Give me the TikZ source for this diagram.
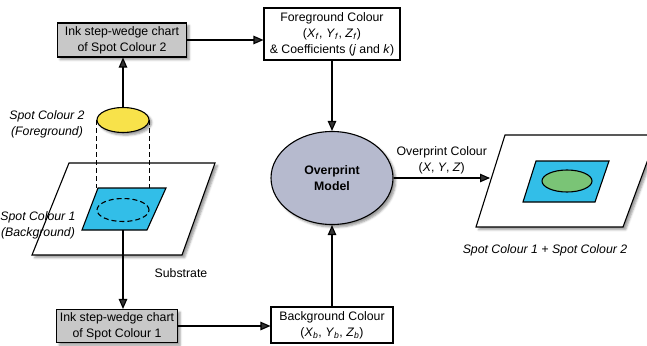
\documentclass[tikz,border=0pt]{standalone}
\usepackage{fontspec}
\setmainfont{Liberation Sans}
\usetikzlibrary{arrows.meta}
\usetikzlibrary{positioning}
\usetikzlibrary{shapes.geometric}
\usetikzlibrary{shadows.blur}

\definecolor{chartgrey}{RGB}{200,200,200}
\definecolor{modelgrey}{RGB}{182,186,206}
\definecolor{spotblue}{RGB}{50,190,232}
\definecolor{spotyellow}{RGB}{248,226,74}
\definecolor{spotgreen}{RGB}{122,196,118}

\tikzset{
  every node/.style={font=\fontsize{12.3}{16}\selectfont},
  chart/.style={draw, fill=chartgrey, align=center, inner sep=1pt, blur shadow},
  colourbox/.style={draw, fill=white, align=center, inner sep=1pt},
  model/.style={draw, ellipse, fill=modelgrey, align=center, minimum width=122pt, minimum height=93pt, blur shadow},
  spot/.style={draw, ellipse, inner sep=0pt},
  sheet/.style={draw, fill=white, blur shadow},
  hidden/.style={dash pattern=on 5pt off 3pt},
  flow/.style={-{Triangle[length=10pt,width=8.5pt]}},
  spotlabel/.style={font=\fontsize{12.3}{16}\selectfont\itshape, align=center},
}

\begin{document}
\begin{tikzpicture}[x=1pt, y=-1pt, line width=1.1pt]
  \useasboundingbox (0,0) rectangle (647,345);
  \clip (0,0) rectangle (647,345);

  % substrate with spot colour 1 printed on it
  \draw[sheet] (69,163) -- (215,163) -- (182,255) -- (32,255) -- cycle;
  \draw[fill=spotblue] (98,188) -- (166,188) -- (147,230) -- (82,230) -- cycle;
  \draw[hidden] (123,210) ellipse (26pt and 11.5pt);
  \coordinate (bgtop) at (123,188);
  \coordinate (bgbottom) at (123,230);

  \node[spot, fill=spotyellow, minimum width=52pt, minimum height=25pt, blur shadow] (spot2) at (123,120) {};
  \draw[hidden] (spot2.west) -- (spot2.west |- bgtop);
  \draw[hidden] (spot2.east) -- (spot2.east |- bgtop);

  \node[spotlabel] (spot2lbl) at (47,124) {Spot Colour 2\\(Foreground)};
  \node[spotlabel] (spot1lbl) at (38,225) {Spot Colour 1\\(Background)};
  \node (substrate) at (181,273) {Substrate};

  % printed result
  \draw[sheet] (505,135) -- (657,135) -- (623,227) -- (476,227) -- cycle;
  \draw[fill=spotblue] (536,161) -- (609,161) -- (595,202) -- (523,202) -- cycle;
  \node[spot, fill=spotgreen, minimum width=50pt, minimum height=22pt] (mix) at (567,181) {};
  \coordinate (overin) at (490,178);
  \node[spotlabel] (mixlbl) at (545,250) {Spot Colour 1 + Spot Colour 2};

  \node[chart, minimum width=129pt, minimum height=34pt] (chart2) at (122,40) {Ink step-wedge chart\\of Spot Colour 2};
  \node[chart, minimum width=121pt, minimum height=33pt] (chart1) at (117,326) {Ink step-wedge chart\\of Spot Colour 1};

  \node[colourbox, minimum width=136pt, minimum height=52pt] (fg) at (332,34)
    {Foreground Colour\\(\textit{X}\textsubscript{\textit{f}}, \textit{Y}\textsubscript{\textit{f}}, \textit{Z}\textsubscript{\textit{f}})\\\& Coefficients (\textit{j} and \textit{k})};
  \node[colourbox, minimum width=122pt, minimum height=36pt] (bg) at (332,325)
    {Background Colour\\(\textit{X}\textsubscript{\textit{b}}, \textit{Y}\textsubscript{\textit{b}}, \textit{Z}\textsubscript{\textit{b}})};

  \node[model] (model) at (332,178) {\textbf{Overprint}\\\textbf{Model}};

  \draw[flow] (spot2.north) -- (spot2.north |- chart2.south);
  \draw[flow] (chart2.east) -- (chart2.east -| fg.west);
  \draw[flow] (fg) -- (model);
  \draw[flow] (model) -- node[above, align=center] {Overprint Colour\\(\textit{X}, \textit{Y}, \textit{Z})} (overin);
  \draw[flow] (bgbottom) -- (bgbottom |- chart1.north);
  \draw[flow] (chart1.east) -- (chart1.east -| bg.west);
  \draw[flow] (bg) -- (model);
\end{tikzpicture}
\end{document}
